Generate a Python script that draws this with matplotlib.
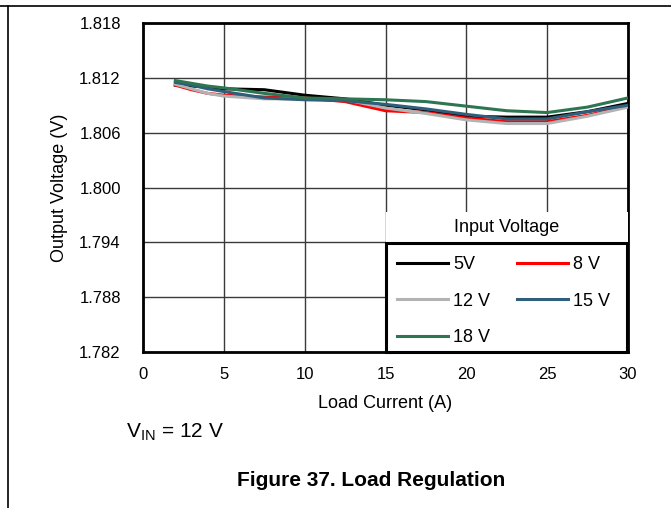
import matplotlib
matplotlib.use("Agg")
import matplotlib.pyplot as plt
from matplotlib.patches import Rectangle
from matplotlib.lines import Line2D

plt.rcParams['font.family'] = ['Liberation Sans', 'DejaVu Sans']

current = [2, 3, 4, 5, 7.5, 10, 12.5, 15, 17.5, 20, 22.5, 25, 27.5, 30]
v_5v  = [1.8112, 1.8111, 1.8110, 1.8108, 1.8107, 1.8101, 1.8097, 1.8090, 1.8085, 1.8078, 1.8077, 1.8077, 1.8083, 1.8092]
v_8v  = [1.8112, 1.8107, 1.8103, 1.8101, 1.8099, 1.8098, 1.8094, 1.8084, 1.8082, 1.8076, 1.8072, 1.8072, 1.8079, 1.8089]
v_12v = [1.8113, 1.8108, 1.8103, 1.8100, 1.8097, 1.8097, 1.8096, 1.8087, 1.8081, 1.8074, 1.8070, 1.8070, 1.8078, 1.8088]
v_15v = [1.8115, 1.8112, 1.8108, 1.8105, 1.8098, 1.8096, 1.8095, 1.8091, 1.8086, 1.8080, 1.8075, 1.8075, 1.8083, 1.8090]
v_18v = [1.8117, 1.8114, 1.8111, 1.8109, 1.8103, 1.8098, 1.8097, 1.8096, 1.8094, 1.8089, 1.8084, 1.8082, 1.8088, 1.8098]

labels = ['5V', '8 V', '12 V', '15 V', '18 V']
colors = ['#000000', '#ff0000', '#b3b3b3', '#2f5f7a', '#2e7552']
series = [v_5v, v_8v, v_12v, v_15v, v_18v]

x_ticks = [0, 5, 10, 15, 20, 25, 30]
y_ticks = [1.782, 1.788, 1.794, 1.800, 1.806, 1.812, 1.818]

fig = plt.figure(figsize=(6.71, 5.08), dpi=100)
ax = fig.add_axes([143/671, 1 - 352/508, (628-143)/671, (352-23)/508])

for v, c, l in zip(series, colors, labels):
    ax.plot(current, v, color=c, lw=2.2, label=l, zorder=3)

ax.set_xlim(0, 30)
ax.set_ylim(1.782, 1.818)
ax.set_xticks(x_ticks)
ax.set_yticks(y_ticks)
ax.set_xticklabels([str(t) for t in x_ticks])
ax.set_yticklabels([f"{t:.3f}" for t in y_ticks])
ax.tick_params(axis='y', length=0, labelsize=12, pad=16)
ax.tick_params(axis='x', length=0, labelsize=12, pad=11)
ax.grid(True, color='#3a3a3a', lw=1)
ax.set_axisbelow(True)
for s in ax.spines.values():
    s.set_linewidth(2)
    s.set_color('black')
ax.set_xlabel('Load Current (A)', fontsize=13, labelpad=9)
ax.set_ylabel('Output Voltage (V)', fontsize=13, labelpad=8)

# white backdrop for legend area
ax.add_patch(Rectangle((15, 1.782), 15, 1.7973 - 1.782, transform=ax.transData,
                       facecolor='white', edgecolor='none', zorder=4))
ax.add_patch(Rectangle((15.0, 1.782), 14.95, 1.7939 - 1.782, transform=ax.transData,
                       facecolor='none', edgecolor='black', lw=2.2, zorder=5, clip_on=False))
ax.text(22.5, 1.7956, 'Input Voltage', ha='center', va='center', fontsize=13, zorder=6)

order = [0, 2, 4, 1, 3]
handles = [Line2D([0], [0], color=colors[i], lw=2.2) for i in order]
leg = ax.legend(handles, [labels[i] for i in order], ncol=2, loc='upper left',
                bbox_to_anchor=((397-143)/485, (352-256)/329),
                frameon=False, fontsize=13, handlelength=2.8, handletextpad=0.3,
                columnspacing=1.5, labelspacing=1.08, borderaxespad=0, borderpad=0)
leg.set_zorder(6)

# page frame lines
fig.add_artist(Line2D([0, 1], [1 - 6/508, 1 - 6/508], color='black', lw=1.2))
fig.add_artist(Line2D([8/671, 8/671], [0, 1 - 6/508], color='black', lw=1.2))

fig.text(126/671, 1 - 432/508, r'V$_{\mathregular{IN}}$ = 12 V', fontsize=15, va='center', ha='left')
fig.text(371/671, 1 - 480/508, 'Figure 37. Load Regulation', fontsize=15, fontweight='bold',
         ha='center', va='center')

fig.savefig('out.png', dpi=100)
